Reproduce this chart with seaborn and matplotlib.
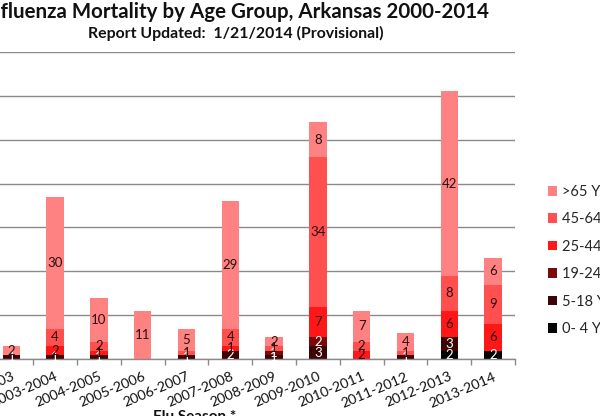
import numpy as np
import pandas as pd
import matplotlib
matplotlib.use("Agg")
import matplotlib.pyplot as plt
from matplotlib.patches import Patch
import seaborn as sns

# ---------------- data ----------------
seasons = ["2002-2003", "2003-2004", "2004-2005", "2005-2006", "2006-2007",
           "2007-2008", "2008-2009", "2009-2010", "2010-2011", "2011-2012",
           "2012-2013", "2013-2014"]
age_0_4 = [0, 0, 0, 0, 0, 0, 0, 0, 0, 0, 2, 2]
age_5_18 = [1, 1, 1, 0, 1, 2, 1, 3, 0, 1, 3, 0]
age_19_24 = [0, 0, 0, 0, 0, 0, 1, 2, 0, 0, 0, 0]
age_25_44 = [0, 2, 1, 0, 0, 1, 0, 7, 2, 0, 6, 6]
age_45_64 = [0, 4, 2, 0, 1, 4, 1, 34, 2, 1, 8, 9]
age_65 = [2, 30, 10, 11, 5, 29, 2, 8, 7, 4, 42, 6]
group_labels = ["0- 4 Years", "5-18 Years", "19-24 Years", "25-44 Years",
                "45-64 Years", ">65 Years"]
title = "Influenza Mortality by Age Group, Arkansas 2000-2014"
subtitle = "Report Updated:  1/21/2014 (Provisional)"
xlabel = "Flu Season *"

# ---------------- style ----------------
group_colors = ["#050505", "#3d0606", "#7a0a0a", "#ff1616", "#ff4f4f", "#ff8282"]
label_colors = ["white", "white", "white", "#2a1010", "#2a1010", "#2a1010"]
grid_color = "#8a8a8a"

sns.set_theme(style="white")
plt.rcParams["font.family"] = ["Lato", "DejaVu Sans"]

W, H = 600, 416
fig = plt.figure(figsize=(W / 100, H / 100), dpi=100)
fig.patch.set_facecolor("white")


def fx(px):
    return px / W


def fy(py):
    return 1 - py / H


left_px, right_px, top_px, base_px = -10.6, 515.0, 51.7, 359.3
ax = fig.add_axes([fx(left_px), fy(base_px), (right_px - left_px) / W,
                   (base_px - top_px) / H])

series = [age_0_4, age_5_18, age_19_24, age_25_44, age_45_64, age_65]
cums = []
running = np.zeros(len(seasons))
for vals in series:
    running = running + np.array(vals, dtype=float)
    cums.append(running.copy())

# draw cumulative totals, tallest first, so every layer shows its own slice
for k in reversed(range(len(series))):
    df = pd.DataFrame({"season": seasons, "value": cums[k]})
    sns.barplot(data=df, x="season", y="value", color=group_colors[k],
                saturation=1, width=0.4, errorbar=None, ax=ax,
                edgecolor="none", linewidth=0, zorder=2)

# data labels
for k, vals in enumerate(series):
    for i, v in enumerate(vals):
        if v > 0:
            ax.text(i, cums[k][i] - v / 2, str(v), ha="center", va="center",
                    fontsize=9.5, color=label_colors[k], zorder=5)

ax.set_xlim(-0.5, len(seasons) - 0.5)
ax.set_ylim(0, 70)
ax.set_yticks(np.arange(0, 71, 10))
ax.set_yticklabels([])
ax.yaxis.grid(True, color=grid_color, linewidth=1)
ax.xaxis.grid(False)
ax.set_axisbelow(True)
ax.tick_params(axis="y", length=0)
for s in ["left", "right", "top"]:
    ax.spines[s].set_visible(False)
ax.spines["bottom"].set_color(grid_color)
ax.spines["bottom"].set_linewidth(1)
ax.set_xlabel("")
ax.set_ylabel("")

ax.set_xticks(range(len(seasons)))
ax.set_xticklabels(seasons, rotation=23, ha="right", rotation_mode="anchor",
                   fontsize=10.3, color="#111111")
ax.tick_params(axis="x", which="major", length=0, pad=8)
ax.set_xticks(np.arange(-0.5, len(seasons), 1.0), minor=True)
ax.tick_params(axis="x", which="minor", length=4, width=1, color=grid_color,
               direction="out", bottom=True)

# titles
fig.text(fx(489), fy(12), title, ha="right", va="center", fontsize=14.8,
         fontweight="bold", color="#111111")
fig.text(fx(236), fy(33), subtitle, ha="center", va="center", fontsize=11.4,
         fontweight="bold", color="#111111")
fig.text(fx(195), fy(421), xlabel, ha="center", va="baseline", fontsize=11,
         fontweight="bold", color="#111111")

# legend (top to bottom: oldest group first)
handles = [Patch(facecolor=group_colors[k], edgecolor="none")
           for k in reversed(range(len(series)))]
labels = [group_labels[k] for k in reversed(range(len(series)))]
fig.legend(handles, labels, loc="upper left",
           bbox_to_anchor=(fx(545), fy(182)), frameon=False, fontsize=10.5,
           handlelength=0.65, handleheight=0.65, handletextpad=0.35,
           labelspacing=0.92, borderaxespad=0, borderpad=0.2)

fig.savefig("out.png", dpi=100, facecolor="white")
